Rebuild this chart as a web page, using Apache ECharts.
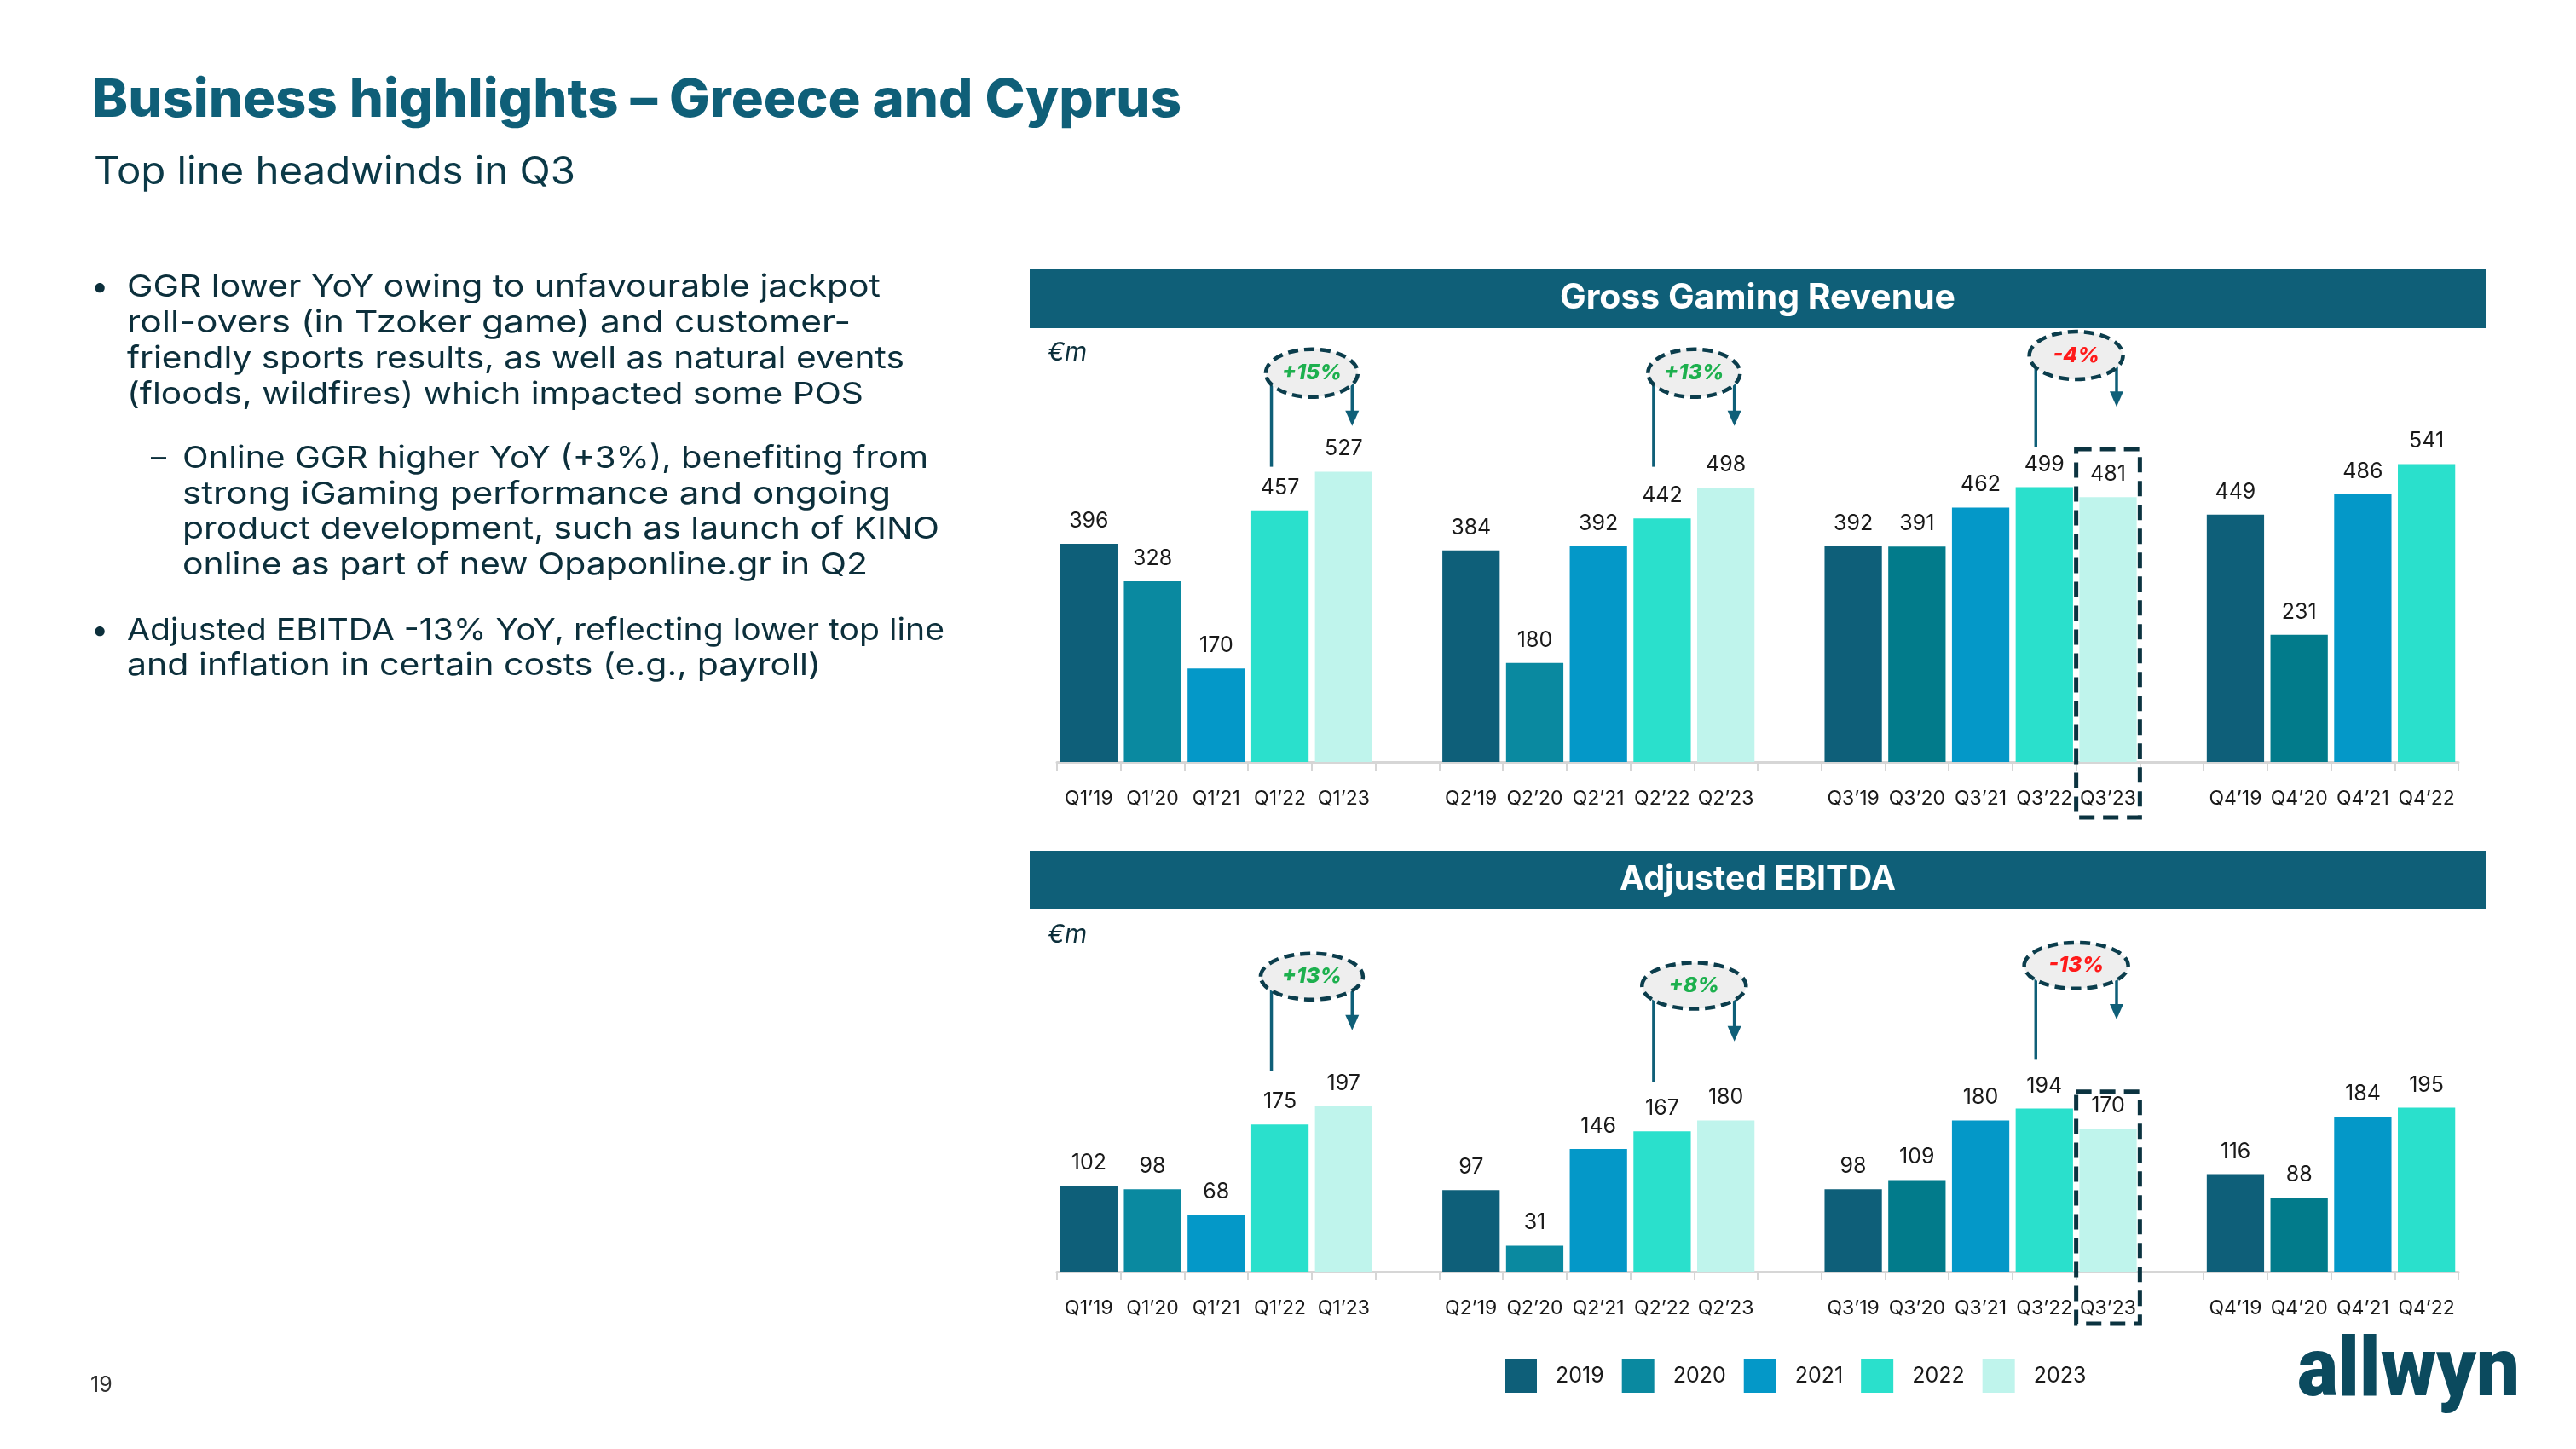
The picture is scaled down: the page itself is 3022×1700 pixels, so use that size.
<!DOCTYPE html>
<html><head><meta charset="utf-8">
<script src="https://cdn.jsdelivr.net/npm/echarts@6/dist/echarts.min.js"></script>
<style>html,body{margin:0;padding:0;background:#fff;}#c{width:3022px;height:1700px;}</style>
</head><body><div id="c"></div>
<script>
// ---------------- data ----------------
const years = ['2019', '2020', '2021', '2022', '2023'];
const quarters = ['Q1', 'Q2', 'Q3', 'Q4'];
const ggrQ1 = [396, 328, 170, 457, 527];
const ggrQ2 = [384, 180, 392, 442, 498];
const ggrQ3 = [392, 391, 462, 499, 481];
const ggrQ4 = [449, 231, 486, 541];
const ebitdaQ1 = [102, 98, 68, 175, 197];
const ebitdaQ2 = [97, 31, 146, 167, 180];
const ebitdaQ3 = [98, 109, 180, 194, 170];
const ebitdaQ4 = [116, 88, 184, 195];
const ggrChanges = ['+15%', '+13%', '-4%'];
const ebitdaChanges = ['+13%', '+8%', '-13%'];
const titleText = 'Business highlights \u2013 Greece and Cyprus';
const subtitleText = 'Top line headwinds in Q3';
const bullet1Lines = ['GGR lower YoY owing to unfavourable jackpot', 'roll-overs (in Tzoker game) and customer-', 'friendly sports results, as well as natural events', '(floods, wildfires) which impacted some POS'];
const subBulletLines = ['Online GGR higher YoY (+3%), benefiting from', 'strong iGaming performance and ongoing', 'product development, such as launch of KINO', 'online as part of new Opaponline.gr in Q2'];
const bullet2Lines = ['Adjusted EBITDA -13% YoY, reflecting lower top line', 'and inflation in certain costs (e.g., payroll)'];

// ---------------- styles ----------------
const yearColors = ['#0e5f79', '#0a89a0', '#0498c8', '#2ae0cc', '#bff4ec'];
const color2020Late = '#027b8b';
const teal = '#0f5f78';
const ink = '#0c2f3b';
const FONT = 'Inter, "Open Sans", sans-serif';

const ctx = document.createElement('canvas').getContext('2d');
function measure(text, font) { ctx.font = font; return ctx.measureText(text).width; }
function fitSize(lines, targets, weight, style) {
  let m = 0, t = 0;
  lines.forEach((l, i) => { m += measure(l, `${style || 'normal'} ${weight} 100px ${FONT}`); t += targets[i]; });
  return 100 * t / m;
}

function build(groups) {
  const cats = [], slots = [];
  groups.forEach((vals, gi) => {
    vals.forEach((v, yi) => { cats.push(quarters[gi] + '\u2019' + years[yi].slice(2)); slots.push({ gi, yi, v }); });
    if (gi < groups.length - 1) { cats.push(' '.repeat(gi + 1)); slots.push(null); }
  });
  return { cats, slots };
}
const G = build([ggrQ1, ggrQ2, ggrQ3, ggrQ4]);
const E = build([ebitdaQ1, ebitdaQ2, ebitdaQ3, ebitdaQ4]);

function makeSeries(B, idx) {
  return years.map((yr, yi) => ({
    type: 'bar', name: yr, xAxisIndex: idx, yAxisIndex: idx,
    barWidth: '90%', barGap: '-100%',
    itemStyle: { color: yearColors[yi] },
    label: { show: true, position: 'top', distance: 14, color: '#1a1a1a', fontSize: 25, fontFamily: FONT },
    data: B.slots.map(s => {
      if (!s || s.yi !== yi) return '-';
      if (yi === 1 && s.gi >= 2) return { value: s.v, itemStyle: { color: color2020Late } };
      return s.v;
    })
  }));
}

const xAxisBase = (cats, idx) => ({
  type: 'category', gridIndex: idx, data: cats,
  axisLine: { lineStyle: { color: '#d6d6d6', width: 3 } },
  axisTick: { show: true, length: 10, lineStyle: { color: '#d6d6d6', width: 2 } },
  axisLabel: { interval: 0, fontSize: 23, color: '#1a1a1a', fontFamily: FONT, margin: 32 }
});

const chart = echarts.init(document.getElementById('c'), null, { renderer: 'canvas' });
chart.setOption({
  animation: false,
  backgroundColor: '#ffffff',
  grid: [
    { left: 1240, width: 1644, top: 377, height: 517 },
    { left: 1240, width: 1644, top: 1196, height: 296 }
  ],
  xAxis: [xAxisBase(G.cats, 0), xAxisBase(E.cats, 1)],
  yAxis: [
    { type: 'value', gridIndex: 0, min: 0, max: 800, show: false, splitLine: { show: false } },
    { type: 'value', gridIndex: 1, min: 0, max: 300, show: false, splitLine: { show: false } }
  ],
  legend: {
    data: years, left: 1760, top: 1589, icon: 'rect', itemWidth: 38, itemHeight: 40, itemGap: 21,
    textStyle: { fontSize: 25, color: '#1a1a1a', fontFamily: FONT, padding: [0, 0, 0, 17] }
  },
  series: makeSeries(G, 0).concat(makeSeries(E, 1))
});

// ---------------- decorations ----------------
const gfx = [];
function text(x, y, t, font, fill, align, target) {
  const el = { type: 'text', z: 50, x, y, style: { x: 0, y: 0, text: t, font, fill, align: align || 'left', verticalAlign: 'middle' } };
  if (target) el.scaleX = target / measure(t, font);
  gfx.push(el);
}
text(108, 118, titleText, `800 62px ${FONT}`, teal, 'left', 1278);
text(110, 202, subtitleText, `400 45px ${FONT}`, '#0b3947', 'left', 565);

const bodyFont = `400 36px ${FONT}`;
const b1T = [884, 849, 912, 864], sbT = [875, 831, 888, 804], b2T = [959, 814];
const b1 = [337, 379, 421, 463], sb = [538, 580, 621, 663], b2 = [740, 781];
bullet1Lines.forEach((l, i) => text(149, b1[i], l, bodyFont, ink, 'left', b1T[i]));
subBulletLines.forEach((l, i) => text(214, sb[i], l, bodyFont, ink, 'left', sbT[i]));
bullet2Lines.forEach((l, i) => text(149, b2[i], l, bodyFont, ink, 'left', b2T[i]));
text(107, b1[0], '\u2022', bodyFont, ink);
text(107, b2[0], '\u2022', bodyFont, ink);
text(177, sb[0], '\u2013', bodyFont, ink);
text(106, 1625, '19', `400 25px ${FONT}`, '#333333');

// header bands
gfx.push({ type: 'rect', z: 1, shape: { x: 1208, y: 316, width: 1708, height: 69 }, style: { fill: teal } });
gfx.push({ type: 'rect', z: 1, shape: { x: 1208, y: 998, width: 1708, height: 68 }, style: { fill: teal } });
const h1 = fitSize(['Gross Gaming Revenue'], [464], 700);
const h2 = fitSize(['Adjusted EBITDA'], [324], 700);
text(2062, 350, 'Gross Gaming Revenue', `700 ${h1}px ${FONT}`, '#ffffff', 'center');
text(2062, 1032, 'Adjusted EBITDA', `700 ${h2}px ${FONT}`, '#ffffff', 'center');
text(1229, 414, '\u20acm', `italic 400 30px ${FONT}`, ink);
text(1229, 1097, '\u20acm', `italic 400 30px ${FONT}`, ink);

// logo
const logoSize = 96;
const logoW = measure('allwyn', `900 ${logoSize}px Roboto`);
gfx.push({ type: 'text', z: 50, x: 2695, y: 1661, scaleX: 261 / logoW,
  style: { x: 0, y: 0, text: 'allwyn', font: `900 ${logoSize}px Roboto`, fill: '#0b4a5e', align: 'left', verticalAlign: 'bottom' } });

// annotations (positions via the library's axes)
function px(grid, cat, val) { return chart.convertToPixel({ gridIndex: grid }, [cat, val]); }
const annot = [
  { grid: 0, q: 'Q1', txt: ggrChanges[0], cy: 706, lineBottom: 536, tip: 610, rx: 54, ry: 28 },
  { grid: 0, q: 'Q2', txt: ggrChanges[1], cy: 706, lineBottom: 536, tip: 610, rx: 54, ry: 28 },
  { grid: 0, q: 'Q3', txt: ggrChanges[2], cy: 738, lineBottom: 571, tip: 645, rx: 55, ry: 28 },
  { grid: 1, q: 'Q1', txt: ebitdaChanges[0], cy: 351, lineBottom: 239, tip: 287, rx: 60, ry: 27 },
  { grid: 1, q: 'Q2', txt: ebitdaChanges[1], cy: 340, lineBottom: 225, tip: 274, rx: 61, ry: 27 },
  { grid: 1, q: 'Q3', txt: ebitdaChanges[2], cy: 364, lineBottom: 252, tip: 300, rx: 61, ry: 27 }
];
annot.forEach(a => {
  const cats = a.grid === 0 ? G.cats : E.cats;
  const iFrom = cats.indexOf(a.q + '\u201922'), iTo = cats.indexOf(a.q + '\u201923');
  const pFrom = px(a.grid, iFrom, a.lineBottom), pTo = px(a.grid, iTo, a.tip);
  const c = px(a.grid, iFrom, a.cy);
  const cx = (pFrom[0] + pTo[0]) / 2, cy = c[1];
  const lx = pFrom[0] - 10, ax = pTo[0] + 10;
  gfx.push({ type: 'polyline', z: 60, shape: { points: [[lx, pFrom[1]], [lx, cy]] }, style: { stroke: teal, lineWidth: 3.5 } });
  gfx.push({ type: 'polyline', z: 60, shape: { points: [[ax, cy], [ax, pTo[1] - 16]] }, style: { stroke: teal, lineWidth: 3.5 } });
  gfx.push({ type: 'polygon', z: 60, shape: { points: [[ax - 8, pTo[1] - 18], [ax + 8, pTo[1] - 18], [ax, pTo[1]]] }, style: { fill: teal } });
  gfx.push({ type: 'ellipse', z: 61, shape: { cx, cy, rx: a.rx, ry: a.ry }, style: { fill: '#eeeeee', stroke: '#0b3d4c', lineWidth: 4.5, lineDash: [12, 7] } });
  const neg = a.txt.charAt(0) === '-';
  gfx.push({ type: 'text', z: 62, style: { x: cx, y: cy, text: a.txt, font: `italic 800 25px ${FONT}`, fill: neg ? '#ff1a1a' : '#1db04e', align: 'center', verticalAlign: 'middle' } });
});

// dashed highlight boxes around Q3'23
[{ grid: 0, cats: G.cats, top: 568, below: 65 }, { grid: 1, cats: E.cats, top: 214, below: 61 }].forEach(b => {
  const i = b.cats.indexOf('Q3\u201923');
  const p = px(b.grid, i, b.top), p2 = px(b.grid, i + 1, 0);
  const slot = p2[0] - p[0];
  const base = p2[1];
  gfx.push({ type: 'rect', z: 55, shape: { x: p[0] - slot / 2, y: p[1], width: slot, height: base + b.below - p[1] },
    style: { fill: 'none', stroke: '#0b3340', lineWidth: 5, lineDash: [18, 10] } });
});

chart.setOption({ graphic: { elements: gfx } });
</script></body></html>
